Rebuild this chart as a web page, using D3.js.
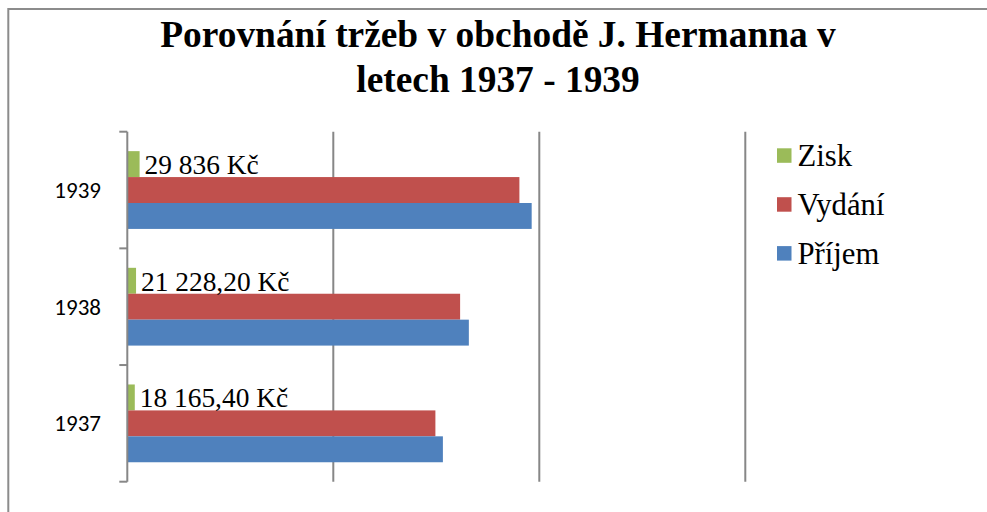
<!DOCTYPE html>
<html><head><meta charset="utf-8">
<script src="https://cdn.jsdelivr.net/npm/d3@7"></script>
<style>html,body{margin:0;padding:0;background:#fff;overflow:hidden}</style>
</head><body>
<svg id="c" width="987" height="512"></svg>
<script>
const years = ["1939","1938","1937"];
const seriesNames = ["Zisk","Vydání","Příjem"];
const zisk = [29836, 21228.20, 18165.40];
const vydani = [951700, 807800, 747800];
const prijem = [981500, 829000, 766000];
const ziskLabels = ["29 836 Kč","21 228,20 Kč","18 165,40 Kč"];
const gridTicks = [0, 500000, 1000000, 1500000];
const titleLines = ["Porovnání tržeb v obchodě J. Hermanna v","letech 1937 - 1939"];
const colors = ["#9BBB59","#C0504D","#4F81BD"];

const serifFont = '"Liberation Serif"';
const sansFont = '"Carlito"';

const svg = d3.select("#c");

function fitSize(str, base, target, weight){
  const t = svg.append("text").style("font-family",serifFont).style("font-size",base+"px").style("font-weight",weight||"normal").text(str);
  const w = t.node().getComputedTextLength(); t.remove();
  return Math.round(base*target/w*10)/10;
}

svg.append("rect").attr("x",8.3).attr("y",9).attr("width",1100).attr("height",600)
  .attr("fill","#fff").attr("stroke","#8c8c8c").attr("stroke-width",2);

const x = d3.scaleLinear().domain([0,1500000]).range([127.3,745.3]);
const y0 = d3.scaleBand().domain(years).range([131.7,481.7]).paddingInner(1/3).paddingOuter(1/6);
const y1 = d3.scaleBand().domain(seriesNames).range([0,y0.bandwidth()]);
const seriesVals = [zisk, vydani, prijem];

svg.append("g").selectAll("line").data(gridTicks.slice(1)).join("line")
  .attr("x1",d=>x(d)).attr("x2",d=>x(d)).attr("y1",131.7).attr("y2",481.7)
  .attr("stroke","#878787").attr("stroke-width",2);

const g = svg.append("g");
years.forEach((yr,i)=>{
  seriesNames.forEach((s,j)=>{
    g.append("rect").attr("x",x(0)).attr("y",y0(yr)+y1(s))
      .attr("width",x(seriesVals[j][i])-x(0)).attr("height",y1.bandwidth())
      .attr("fill",colors[j]);
  });
});

const ax = d3.axisLeft(y0).tickSize(0).tickFormat("");
const axg = svg.append("g").attr("transform",`translate(${x(0)},0)`).call(ax);
axg.select(".domain").remove();
axg.append("line").attr("x1",0).attr("x2",0).attr("y1",131.7).attr("y2",481.7).attr("stroke","#878787").attr("stroke-width",2);
const bounds = [131.7].concat(years.map(yr=>y0(yr)+y0.bandwidth()+y0.step()*(1/6)));
axg.selectAll(".tk").data(bounds).join("line").attr("class","tk")
  .attr("x1",-8).attr("x2",0).attr("y1",d=>d).attr("y2",d=>d).attr("stroke","#878787").attr("stroke-width",2);

svg.append("g").selectAll("text").data(years).join("text")
  .style("font-family",sansFont).style("font-size","23px")
  .attr("x",101).attr("y",d=>y0(d)+y0.bandwidth()/2).attr("dy","0.35em")
  .attr("text-anchor","end")
  .attr("fill","#000").text(d=>d);

const lblSize = fitSize(ziskLabels[0], 28, 114);
svg.append("g").selectAll("text").data(years).join("text")
  .style("font-family",serifFont).style("font-size",lblSize+"px")
  .attr("x",(d,i)=>x(zisk[i])+5).attr("y",d=>y0(d)+y1("Zisk")+y1.bandwidth()/2+10)
  .attr("fill","#000").text((d,i)=>ziskLabels[i]);

const legSize = fitSize("Vydání", 27, 87);
const lg = svg.append("g");
seriesNames.forEach((s,j)=>{
  lg.append("rect").attr("x",777).attr("y",148.3+j*48.9).attr("width",14.5).attr("height",14.5).attr("fill",colors[j]);
  lg.append("text").style("font-family",serifFont).style("font-size",legSize+"px")
    .attr("x",797.5).attr("y",165.7+j*48.9)
    .attr("fill","#000").text(s);
});

const titleSize = fitSize(titleLines[0], 36, 676, "bold");
svg.append("g").selectAll("text").data(titleLines).join("text")
  .style("font-family",serifFont).style("font-weight","bold").style("font-size",titleSize+"px")
  .attr("x",498).attr("y",(d,i)=>47.3+i*44.4).attr("text-anchor","middle")
  .attr("fill","#000").text(d=>d);
</script>
</body></html>
